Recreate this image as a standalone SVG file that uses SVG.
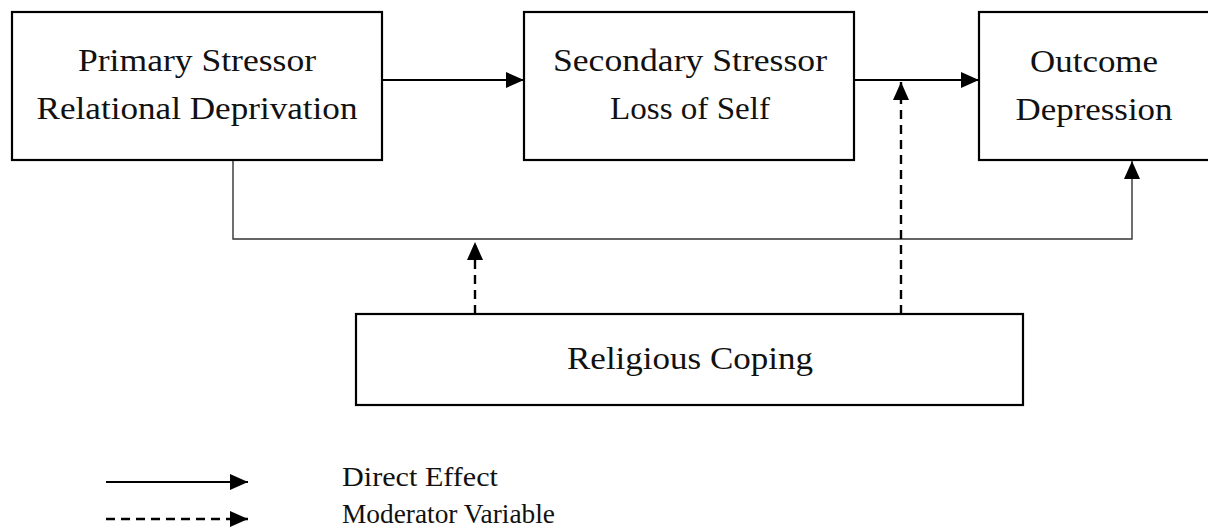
<svg xmlns="http://www.w3.org/2000/svg" width="1208" height="529" viewBox="0 0 1208 529">
<style>
.box{fill:#fff;stroke:#000;stroke-width:2.2}
.t{font-family:"Liberation Serif","DejaVu Serif",serif;font-size:32px;fill:#111;text-anchor:middle}
.tl{font-family:"Liberation Serif","DejaVu Serif",serif;font-size:27px;fill:#111}
.solid{fill:none;stroke:#000;stroke-width:2.2}
.thin{fill:none;stroke:#333;stroke-width:1.4}
.dash{fill:none;stroke:#000;stroke-width:2.4;stroke-dasharray:9 6}
</style>
<defs>
<marker id="ah" viewBox="0 0 18 16" refX="18" refY="8" markerWidth="18" markerHeight="16" markerUnits="userSpaceOnUse" orient="auto">
<path d="M0,0 L18,8 L0,16 Z" fill="#000"/>
</marker>
</defs>
<g id="connectors">
<line class="solid" x1="382" y1="80" x2="524" y2="80" marker-end="url(#ah)"/>
<line class="solid" x1="854" y1="80" x2="979" y2="80" marker-end="url(#ah)"/>
<polyline class="thin" points="233,160 233,239 1132,239 1132,161" marker-end="url(#ah)"/>
<line class="dash" x1="475" y1="314" x2="475" y2="242" marker-end="url(#ah)"/>
<line class="dash" x1="901" y1="314" x2="901" y2="82" marker-end="url(#ah)"/>
</g>
<g id="primary">
<rect class="box" x="12" y="12" width="370" height="148"/>
<text class="t" x="197" y="71" textLength="238" lengthAdjust="spacingAndGlyphs">Primary Stressor</text>
<text class="t" x="197" y="119" textLength="321" lengthAdjust="spacingAndGlyphs">Relational Deprivation</text>
</g>
<g id="secondary">
<rect class="box" x="524" y="12" width="330" height="148"/>
<text class="t" x="690" y="71" textLength="274" lengthAdjust="spacingAndGlyphs">Secondary Stressor</text>
<text class="t" x="690" y="119" textLength="160" lengthAdjust="spacingAndGlyphs">Loss of Self</text>
</g>
<g id="outcome">
<rect class="box" x="979" y="12" width="240" height="148"/>
<text class="t" x="1094" y="72" textLength="128" lengthAdjust="spacingAndGlyphs">Outcome</text>
<text class="t" x="1094" y="120" textLength="157" lengthAdjust="spacingAndGlyphs">Depression</text>
</g>
<g id="coping">
<rect class="box" x="356" y="314" width="667" height="91"/>
<text class="t" x="690" y="369" textLength="246" lengthAdjust="spacingAndGlyphs">Religious Coping</text>
</g>
<g id="legend">
<line class="solid" x1="106" y1="482" x2="248" y2="482" marker-end="url(#ah)"/>
<line class="dash" x1="106" y1="519" x2="248" y2="519" marker-end="url(#ah)"/>
<text class="tl" x="342" y="486" textLength="156" lengthAdjust="spacingAndGlyphs">Direct Effect</text>
<text class="tl" x="342" y="523" textLength="213" lengthAdjust="spacingAndGlyphs">Moderator Variable</text>
</g>
</svg>
